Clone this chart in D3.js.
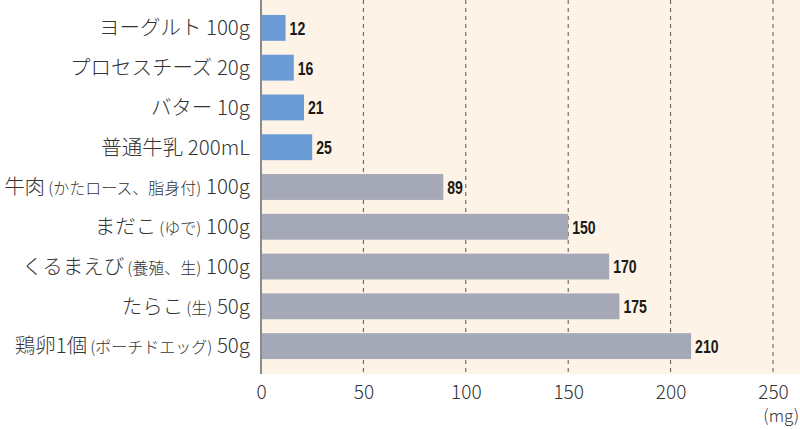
<!DOCTYPE html>
<html><head><meta charset="utf-8">
<script src="https://cdn.jsdelivr.net/npm/d3@7"></script>
<style>body{margin:0;background:#fff}svg{display:block}</style>
</head><body><svg id="c" width="800" height="429"></svg>
<script>
const names = ["ヨーグルト","プロセスチーズ","バター","普通牛乳","牛肉","まだこ","くるまえび","たらこ","鶏卵1個"];
const notes = ["","","","","(かたロース、脂身付)","(ゆで)","(養殖、生)","(生)","(ポーチドエッグ)"];
const amounts = ["100g","20g","10g","200mL","100g","100g","100g","50g","50g"];
const values = [12,16,21,25,89,150,170,175,210];
const groups = ["dairy","dairy","dairy","dairy","other","other","other","other","other"];
const ticks = [0,50,100,150,200,250];
const unit = "(mg)";

(function(){
const svg = d3.select("#c");
const pl = 261, pr = 773, pt = 0, pb = 374;
const x = d3.scaleLinear().domain([0,250]).range([pl,pr]);
const y = d3.scaleBand().domain(d3.range(values.length)).range([8,366]).paddingInner(0.35).paddingOuter(0.175);
const color = d3.scaleOrdinal().domain(["dairy","other"]).range(["#6a9bd5","#a5a8b6"]);

svg.append("rect").attr("x",pl).attr("y",pt).attr("width",800-pl).attr("height",pb-pt).attr("fill","#fdf3e6");

svg.append("g").selectAll("line").data(ticks.slice(1)).join("line")
  .attr("x1",d=>x(d)).attr("x2",d=>x(d)).attr("y1",pt).attr("y2",pb)
  .attr("stroke","#555").attr("stroke-width",1).attr("stroke-dasharray","4,4");

svg.append("g").selectAll("rect").data(values).join("rect")
  .attr("x",x(0)).attr("y",(d,i)=>y(i)).attr("width",d=>x(d)-x(0)).attr("height",y.bandwidth())
  .attr("fill",(d,i)=>color(groups[i]));

svg.append("line").attr("x1",pl).attr("x2",pl).attr("y1",pt).attr("y2",pb)
  .attr("stroke","#8a8a8a").attr("stroke-width",2);

svg.append("g").selectAll("text").data(values).join("text")
  .attr("transform",(d,i)=>`translate(${x(d)+4},${y(i)+y.bandwidth()/2}) scale(0.74,1)`).attr("dy","0.36em")
  .attr("font-family","'Liberation Sans',sans-serif").attr("font-weight","bold")
  .attr("font-size",19).attr("fill","#1a1a1a").text(d=>d);

const lab = svg.append("g").selectAll("text").data(names).join("text")
  .attr("x",250).attr("y",(d,i)=>y(i)+y.bandwidth()/2).attr("dy","0.36em").attr("text-anchor","end")
  .attr("font-family","'Noto Sans CJK JP',sans-serif").attr("font-weight",300)
  .attr("font-size",20.5).attr("fill","#333");
lab.append("tspan").text(d=>d);
lab.append("tspan").attr("font-size",16).attr("dx",(d,i)=>notes[i]?3:0).text((d,i)=>notes[i]);
lab.append("tspan").text((d,i)=>" "+amounts[i]);

const axis = d3.axisBottom(x).tickValues(ticks).tickSize(0).tickPadding(0);
const ag = svg.append("g").attr("transform",`translate(0,${pb})`).call(axis);
ag.select(".domain").remove();
ag.selectAll("text").attr("y",25).attr("dy",0).attr("font-family","'Noto Sans CJK JP',sans-serif").attr("font-weight",300)
  .attr("font-size",19).attr("fill","#333");

svg.append("text").attr("x",799).attr("y",422).attr("text-anchor","end")
  .attr("font-family","'Noto Sans CJK JP',sans-serif").attr("font-weight",300)
  .attr("font-size",17).attr("fill","#333").text(unit);
})();
</script></body></html>
